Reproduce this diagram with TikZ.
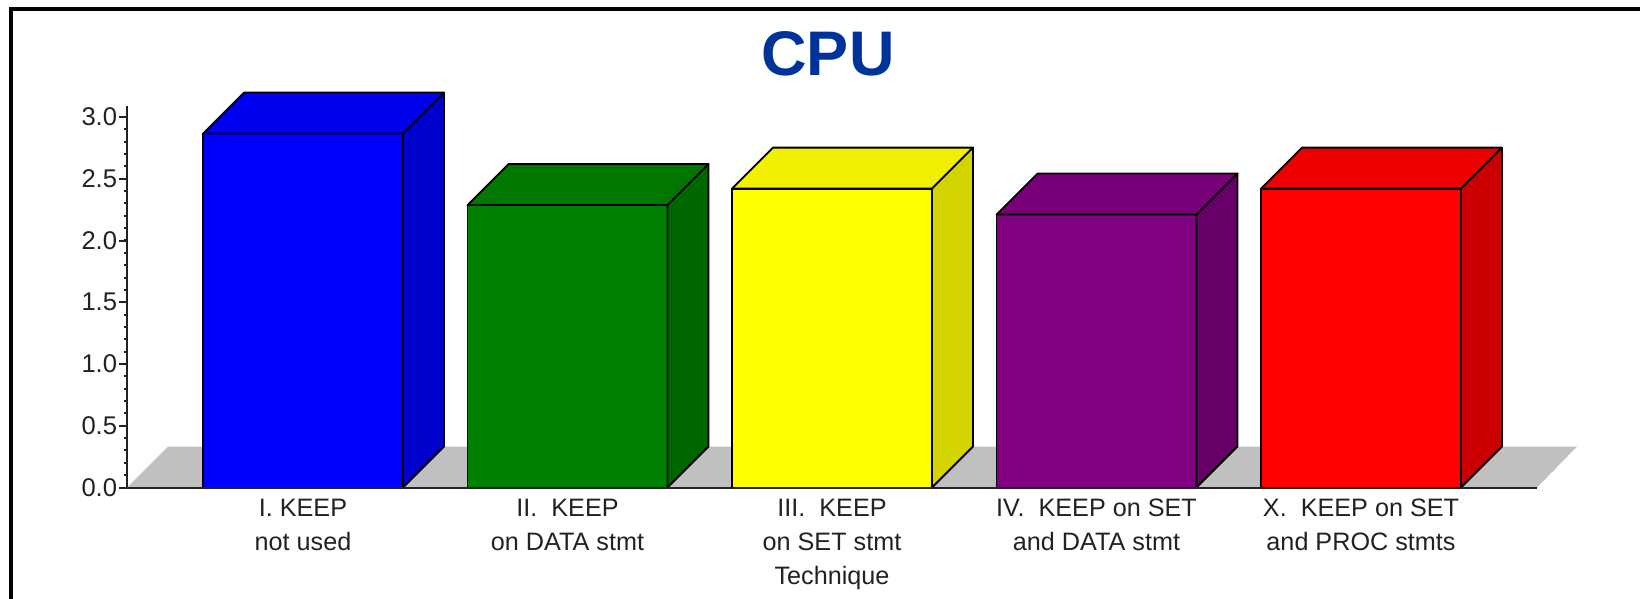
\documentclass[tikz,border=0pt]{standalone}
\usepackage{fontspec}
\setmainfont{Liberation Sans}
\definecolor{titleblue}{RGB}{0,51,153}
\definecolor{floorgray}{RGB}{192,192,192}
\definecolor{axisgray}{RGB}{34,34,34}
\definecolor{blueF}{RGB}{0,0,255}
\definecolor{blueT}{RGB}{0,0,240}
\definecolor{blueS}{RGB}{0,0,204}
\definecolor{greenF}{RGB}{0,128,0}
\definecolor{greenT}{RGB}{0,120,0}
\definecolor{greenS}{RGB}{0,102,0}
\definecolor{yellowF}{RGB}{255,255,0}
\definecolor{yellowT}{RGB}{240,240,0}
\definecolor{yellowS}{RGB}{212,212,0}
\definecolor{purpleF}{RGB}{128,0,128}
\definecolor{purpleT}{RGB}{120,0,120}
\definecolor{purpleS}{RGB}{102,0,102}
\definecolor{redF}{RGB}{255,0,0}
\definecolor{redT}{RGB}{238,0,0}
\definecolor{redS}{RGB}{204,0,0}
% #1 left of front face, #2 value, #3 #4 #5 front/top/side colour
\newcommand{\cpubox}[5]{%
	\pgfmathsetmacro{\ytop}{487.5-123.5*#2}
	\filldraw[boxedge, fill=#3] (#1,487.5) rectangle (#1+200,\ytop);
	\filldraw[boxedge, fill=#4] (#1,\ytop) -- ++(41,-41) -- ++(200,0) -- ++(-41,41) -- cycle;
	\filldraw[boxedge, fill=#5] (#1+200,487.5) -- ++(41,-41) -- (#1+241,\ytop-41) -- (#1+200,\ytop) -- cycle;
}
\tikzset{
	boxedge/.style={draw=black, line width=0.9pt, line join=round},
	axis/.style={axisgray, line width=1pt},
	ticklbl/.style={anchor=east, inner sep=0pt, text=axisgray, font=\fontsize{12.8}{17}\selectfont},
	catlbl/.style={anchor=north, inner sep=0pt, align=center, text=axisgray, font=\fontsize{12.6}{17}\selectfont},
}

\begin{document}
\begin{tikzpicture}[x=0.5pt, y=-0.5pt]
	\useasboundingbox (0,0) rectangle (1640,599);
	\fill[white] (0,0) rectangle (1640,599);
	\draw[line width=2pt] (11,599) -- (11,9) -- (1640,9);

	\node[text=titleblue, font=\fontsize{31.5}{32}\selectfont\bfseries] (title) at (828,54) {CPU};

	\fill[floorgray] (127,487.5) -- (1537,487.5) -- (1577,446.5) -- (168,446.5) -- cycle;

	\cpubox{203}{2.866}{blueF}{blueT}{blueS}
	\cpubox{467.5}{2.287}{greenF}{greenT}{greenS}
	\cpubox{732}{2.42}{yellowF}{yellowT}{yellowS}
	\cpubox{996.5}{2.21}{purpleF}{purpleT}{purpleS}
	\cpubox{1261}{2.42}{redF}{redT}{redS}

	\draw[axis] (127,106) -- (127,487.5) -- (1537,487.5);
	\foreach \k in {0,...,30}
		\draw[axis] (123.5,487.5-12.35*\k) -- (127,487.5-12.35*\k);
	\foreach \k/\txt in {0/0.0, 1/0.5, 2/1.0, 3/1.5, 4/2.0, 5/2.5, 6/3.0} {
		\draw[axis] (119,487.5-61.75*\k) -- (127,487.5-61.75*\k);
		\node[ticklbl] (ytick\k) at (117.5,487.5-61.75*\k) {\txt};
	}

	\node[catlbl] (lblI) at (303,499) {I. KEEP\\not used};
	\node[catlbl] (lblII) at (567.5,499) {II.~ KEEP\\on DATA stmt};
	\node[catlbl] (lblIII) at (832,499) {III.~ KEEP\\on SET stmt\\Technique};
	\node[catlbl] (lblIV) at (1096.5,499) {IV.~ KEEP on SET\\and DATA stmt};
	\node[catlbl] (lblX) at (1361,499) {X.~ KEEP on SET\\and PROC stmts};
\end{tikzpicture}
\end{document}
